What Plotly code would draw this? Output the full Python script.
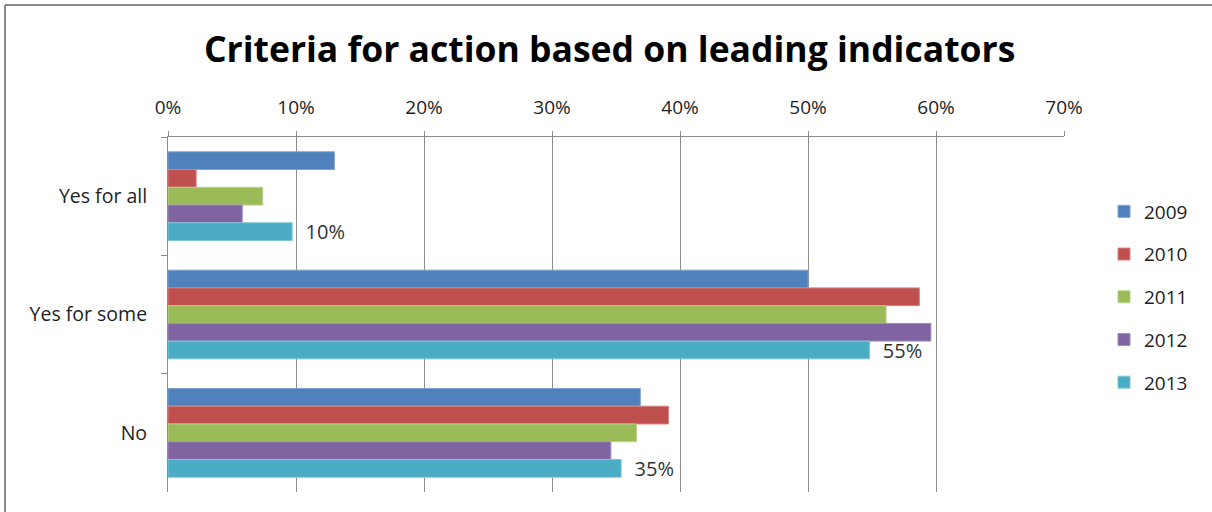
import plotly.graph_objects as go

categories = ["Yes for all", "Yes for some", "No"]
years = ["2009", "2010", "2011", "2012", "2013"]
v2009 = [13.0, 50.0, 36.9]
v2010 = [2.2, 58.7, 39.1]
v2011 = [7.4, 56.1, 36.6]
v2012 = [5.8, 59.6, 34.6]
v2013 = [9.7, 54.8, 35.4]
series = [v2009, v2010, v2011, v2012, v2013]
colors = ["#4F81BD", "#C0504D", "#9BBB59", "#8064A2", "#4BACC6"]
line_colors = ["#7FA3D1", "#D58583", "#B9D08C", "#A18DBE", "#82C6D9"]
tick_vals = [0, 10, 20, 30, 40, 50, 60, 70]
tick_text = ["0%", "10%", "20%", "30%", "40%", "50%", "60%", "70%"]

FONT = "Open Sans"
TXT = "#1E1E1E"

fig = go.Figure()
for i, (yr, vals) in enumerate(zip(years, series)):
    labeled = (i == len(years) - 1)
    fig.add_trace(go.Bar(
        y=categories, x=vals, name=yr, orientation="h",
        marker=dict(color=colors[i], line=dict(color=line_colors[i], width=1)),
        legendgroup=yr,
        text=[f"  {round(v):d}%" for v in vals] if labeled else None,
        textposition="outside" if labeled else "none",
        constraintext="none", cliponaxis=False,
        textfont=dict(family=FONT, size=20, color="#333333"),
        hoverinfo="x+y+name",
    ))

W, H = 1212, 512
L, R, T, B = 168, 1064, 137, 492
pw, ph = R - L, B - T

def px_x(p):
    return (p - L) / pw

def px_y(p):
    return (B - p) / ph

fig.update_layout(
    width=W, height=H,
    margin=dict(l=L, r=W - R, t=T, b=H - B, autoexpand=False),
    paper_bgcolor="white", plot_bgcolor="white",
    barmode="group", bargap=0.25, bargroupgap=0,
    title=dict(text="<b>Criteria for action based on leading indicators</b>",
               x=0.503, xanchor="center", y=1 - 50 / H, yanchor="middle",
               font=dict(family=FONT, size=35.5, color="black")),
    font=dict(family=FONT, size=19, color=TXT),
    xaxis=dict(side="top", range=[0, 70], tickvals=tick_vals, ticktext=tick_text,
               showgrid=True, gridcolor="#8C8C8C", gridwidth=1,
               showline=True, linecolor="#8C8C8C", linewidth=1,
               ticks="outside", ticklen=5, tickcolor="#8C8C8C",
               ticklabelstandoff=9, zeroline=False,
               tickfont=dict(family=FONT, size=19, color=TXT)),
    yaxis=dict(categoryorder="array", categoryarray=categories, autorange="reversed",
               showline=True, linecolor="#8C8C8C", linewidth=1,
               ticks="outside", ticklen=6, tickcolor="#8C8C8C", tickson="boundaries",
               showgrid=False, ticklabelstandoff=16,
               tickfont=dict(family=FONT, size=19.5, color=TXT)),
    legend=dict(x=px_x(1104), xanchor="left", y=px_y(297), yanchor="middle",
                traceorder="grouped", tracegroupgap=15,
                font=dict(family=FONT, size=19, color=TXT),
                itemwidth=30, bgcolor="rgba(0,0,0,0)"),
    shapes=[
        dict(type="line", xref="paper", yref="paper",
             x0=px_x(5), x1=px_x(1220), y0=px_y(5), y1=px_y(5),
             line=dict(color="#8C8C8C", width=2)),
        dict(type="line", xref="paper", yref="paper",
             x0=px_x(5), x1=px_x(5), y0=px_y(5), y1=px_y(520),
             line=dict(color="#8C8C8C", width=2)),
    ],
)

fig.write_html("out.html", config={"displayModeBar": False},
               post_script="document.body.style.margin='0';document.body.style.overflow='hidden';")
